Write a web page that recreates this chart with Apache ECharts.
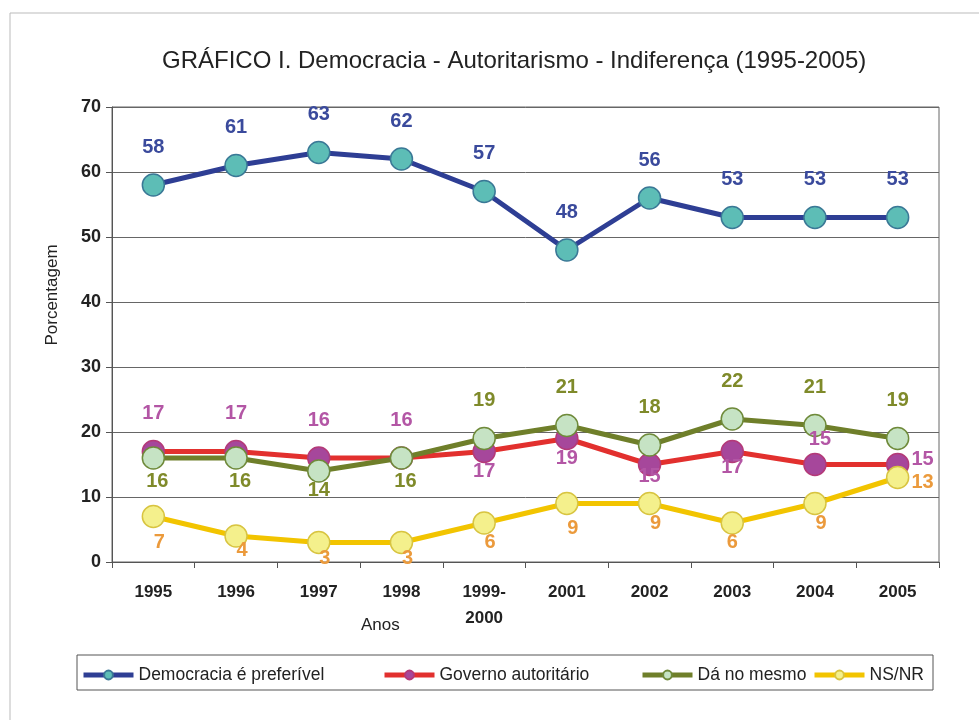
<!DOCTYPE html>
<html>
<head>
<meta charset="utf-8">
<script src="https://cdn.jsdelivr.net/npm/echarts@6/dist/echarts.min.js"></script>
<style>
  html, body { margin: 0; padding: 0; background: #fff; }
  #main { width: 979px; height: 720px; }
</style>
</head>
<body>
<div id="main"></div>
<script>
// dados
var anos = ['1995', '1996', '1997', '1998', '1999-\n2000', '2001', '2002', '2003', '2004', '2005'];
var democracia = [58, 61, 63, 62, 57, 48, 56, 53, 53, 53];
var autoritario = [17, 17, 16, 16, 17, 19, 15, 17, 15, 15];
var mesmo = [16, 16, 14, 16, 19, 21, 18, 22, 21, 19];
var nsnr = [7, 4, 3, 3, 6, 9, 9, 6, 9, 13];
var yTicks = [0, 10, 20, 30, 40, 50, 60, 70];

var nomes = ['Democracia é preferível', 'Governo autoritário', 'Dá no mesmo', 'NS/NR'];

// posição dos rótulos por ponto: [posição, distância, offsetX, offsetY]
var posAutoritario = [['top', 16], ['top', 16], ['top', 16], ['top', 16], ['bottom', -2],
  ['bottom', -2], ['bottom', -10], ['bottom', -6], ['top', 3, 5, 0], ['right', 2, 0, -5]];
var posMesmo = [['bottom', 2, 4], ['bottom', 2, 4], ['bottom', -2], ['bottom', 2, 4], ['top', 16],
  ['top', 16], ['top', 16], ['top', 16], ['top', 16], ['top', 16]];
var posNsnr = [['bottom', 4, 6], ['bottom', -7, 6], ['bottom', -6, 6], ['bottom', -6, 6], ['bottom', -2, 6],
  ['bottom', 3, 6], ['bottom', -2, 6], ['bottom', -2], ['bottom', -2, 6], ['right', 2, 0, 5]];

function pontos(valores, pos, cor) {
  return valores.map(function (v, i) {
    var p = pos ? pos[i] : ['top', 16];
    return {
      value: v,
      label: {
        show: true,
        position: p[0],
        distance: p[1],
        offset: [p[2] || 0, p[3] || 0],
        color: cor,
        fontSize: 20,
        fontWeight: 'bold',
        fontFamily: 'Liberation Sans'
      }
    };
  });
}

function serie(nome, valores, pos, linha, preenche, borda, corRotulo) {
  return {
    name: nome,
    type: 'line',
    data: pontos(valores, pos, corRotulo),
    symbol: 'circle',
    symbolSize: 22,
    lineStyle: { color: linha, width: 5 },
    itemStyle: { color: preenche, borderColor: borda, borderWidth: 1.5 },
    emphasis: { disabled: true }
  };
}

var chart = echarts.init(document.getElementById('main'));

var legendaX = [81, 382, 640, 812];
var legendas = nomes.map(function (n, i) {
  return {
    data: [n],
    left: legendaX[i],
    top: 666,
    padding: 0,
    itemWidth: 50,
    itemHeight: 11,
    lineStyle: { width: 5 },
    textStyle: { fontSize: 17.5, color: '#222', fontFamily: 'Liberation Sans' }
  };
});

chart.setOption({
  animation: false,
  backgroundColor: '#fff',
  title: {
    text: 'GRÁFICO I. Democracia - Autoritarismo - Indiferença (1995-2005)',
    left: 157,
    top: 44,
    textStyle: { fontSize: 24, fontWeight: 'normal', color: '#222', fontFamily: 'Liberation Sans' }
  },
  legend: legendas,
  grid: {
    left: 112, right: 40, top: 107, bottom: 158,
    show: true, borderColor: '#666', borderWidth: 1
  },
  xAxis: {
    type: 'category',
    data: anos,
    boundaryGap: true,
    axisLine: { lineStyle: { color: '#555' } },
    axisTick: { show: true, length: 6, interval: 0, lineStyle: { color: '#555' } },
    axisLabel: {
      interval: 0, margin: 17, fontSize: 17, fontWeight: 'bold', color: '#222',
      lineHeight: 26, fontFamily: 'Liberation Sans'
    }
  },
  yAxis: {
    type: 'value',
    min: yTicks[0],
    max: yTicks[yTicks.length - 1],
    interval: 10,
    axisLine: { show: true, lineStyle: { color: '#555' } },
    axisTick: { show: true, length: 6, lineStyle: { color: '#555' } },
    axisLabel: { margin: 11, fontSize: 18, fontWeight: 'bold', color: '#222', fontFamily: 'Liberation Sans' },
    splitLine: { lineStyle: { color: '#666', width: 1 } }
  },
  graphic: [
    { type: 'rect', shape: { x: 10, y: 13, width: 1000, height: 800 },
      style: { fill: 'none', stroke: '#bbb', lineWidth: 1 }, silent: true },
    { type: 'rect', shape: { x: 77, y: 655, width: 856, height: 35 },
      style: { fill: 'none', stroke: '#555', lineWidth: 1 }, silent: true },
    { type: 'text', left: 361, top: 617,
      style: { text: 'Anos', fontSize: 17, fill: '#222', fontFamily: 'Liberation Sans' } },
    { type: 'text', x: 52, y: 295, rotation: Math.PI / 2,
      style: { text: 'Porcentagem', fontSize: 17, fill: '#222', fontFamily: 'Liberation Sans',
        align: 'center', verticalAlign: 'middle' } }
  ],
  series: [
    serie(nomes[0], democracia, null, '#2e3e94', '#5dbdb6', '#3a7896', '#3a4a9c'),
    serie(nomes[1], autoritario, posAutoritario, '#e2302e', '#a6479b', '#b43a78', '#b356a5'),
    serie(nomes[2], mesmo, posMesmo, '#6f7f2a', '#c6e3c4', '#6f8a3a', '#7f8a2a'),
    serie(nomes[3], nsnr, posNsnr, '#f2c400', '#f4f08c', '#d8c440', '#eb9a3c')
  ]
});
</script>
</body>
</html>
